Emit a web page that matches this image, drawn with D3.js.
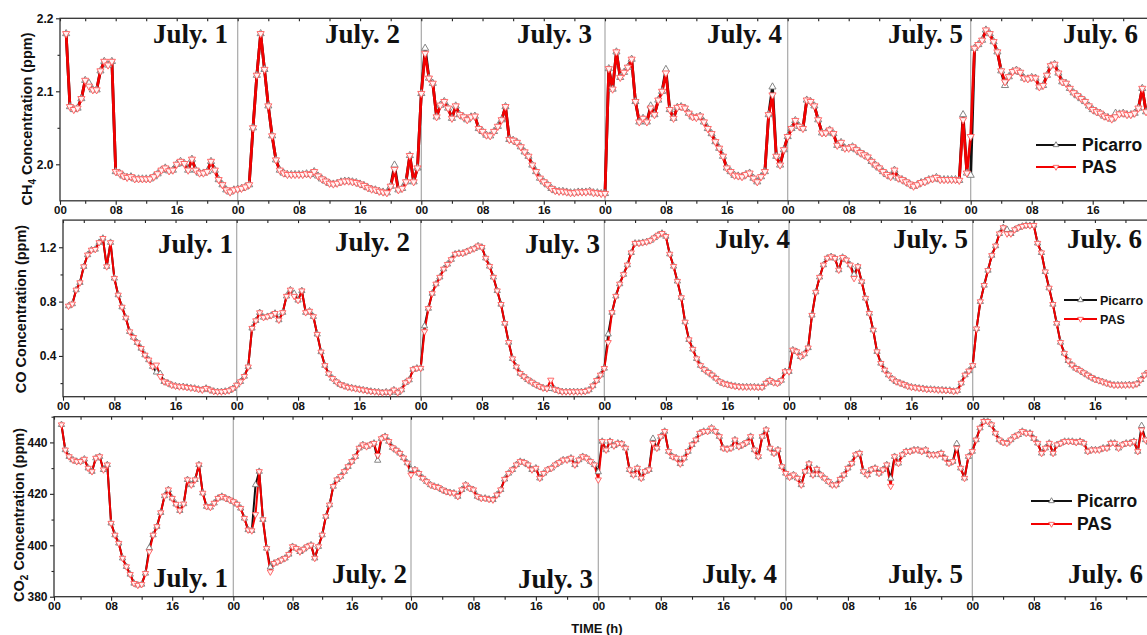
<!DOCTYPE html>
<html>
<head>
<meta charset="UTF-8">
<title>CH4 / CO / CO2 - Picarro vs PAS</title>
<script src="https://d3js.org/d3.v7.min.js"></script>
<style>
body { margin: 0; background: #fff; }
svg { display: block; }
.tick text { font-family: Arial, "Liberation Sans", sans-serif; font-weight: bold; fill: #111; }
</style>
</head>
<body>
<div id="chart"></div>
<script>
// one reading every half hour, hours counted from July 1 00:00
var stepHour = 0.5;

var days = ["July. 1", "July. 2", "July. 3", "July. 4", "July. 5", "July. 6"];
var dayHours = [24, 48, 72, 96, 120];
var majorHours = [0, 8, 16, 24, 32, 40, 48, 56, 64, 72, 80, 88, 96, 104, 112, 120, 128, 136];
var minorHours = [4, 12, 20, 28, 36, 44, 52, 60, 68, 76, 84, 92, 100, 108, 116, 124, 132, 140];

// ---- CH4 (ppm), first reading 01:30 July 1
var ch4Start = 1.5;
var ch4Pas = [
  2.179, 2.079, 2.075, 2.077, 2.090, 2.115, 2.107, 2.102, 2.102, 2.128, 2.141, 2.136, 2.141, 1.990, 1.988, 1.984,
  1.982, 1.983, 1.980, 1.980, 1.980, 1.980, 1.980, 1.983, 1.987, 1.992, 1.995, 1.991, 1.992, 2.000, 2.004, 2.001,
  1.992, 2.007, 1.992, 1.988, 1.988, 1.990, 2.004, 1.992, 1.979, 1.972, 1.965, 1.962, 1.965,
  1.966, 1.967, 1.969, 1.972, 2.050, 2.122, 2.179, 2.130, 2.080, 2.039, 2.006, 1.992, 1.988, 1.986, 1.986, 1.986,
  1.986, 1.986, 1.987, 1.986, 1.990, 1.984, 1.980, 1.977, 1.974, 1.973, 1.974, 1.976, 1.977, 1.977, 1.976, 1.975,
  1.973, 1.971, 1.968, 1.966, 1.965, 1.963, 1.962, 1.961, 1.970, 1.993, 1.965, 1.967, 1.976, 2.012, 1.976, 1.995,
  2.097, 2.152, 2.118, 2.111, 2.065, 2.081, 2.086, 2.077, 2.063, 2.080, 2.068, 2.065, 2.061, 2.065, 2.066, 2.049,
  2.045, 2.040, 2.039, 2.045, 2.052, 2.061, 2.079, 2.034, 2.033, 2.030, 2.024, 2.017, 2.011, 1.999, 1.990, 1.981,
  1.976, 1.972, 1.967, 1.964, 1.963, 1.963, 1.962, 1.961, 1.961, 1.962, 1.962, 1.962, 1.963, 1.961, 1.961, 1.960,
  1.960, 2.131, 2.103, 2.154, 2.119, 2.126, 2.133, 2.144, 2.086, 2.058, 2.063, 2.058, 2.077, 2.068, 2.088, 2.100,
  2.125, 2.075, 2.063, 2.078, 2.079, 2.077, 2.070, 2.065, 2.064, 2.066, 2.058, 2.049, 2.042, 2.031, 2.022, 2.011,
  1.995, 1.990, 1.985, 1.984, 1.983, 1.986, 1.988, 1.981, 1.976, 1.983, 1.990, 2.068, 2.095, 2.011, 1.999, 2.020,
  2.038, 2.049, 2.060, 2.052, 2.049, 2.088, 2.086, 2.080, 2.061, 2.043, 2.043, 2.047, 2.042, 2.026, 2.030, 2.022,
  2.022, 2.024, 2.020, 2.016, 2.013, 2.010, 2.004, 1.999, 1.995, 1.990, 1.986, 1.983, 1.992, 1.981, 1.979, 1.976,
  1.973, 1.970, 1.972, 1.975, 1.976, 1.979, 1.980, 1.982, 1.979, 1.979, 1.979, 1.979, 1.979, 1.978, 2.061, 1.988,
  2.038, 2.159, 2.164, 2.170, 2.184, 2.179, 2.168, 2.154, 2.128, 2.113, 2.120, 2.127, 2.129, 2.126, 2.118, 2.117,
  2.119, 2.118, 2.106, 2.108, 2.122, 2.135, 2.137, 2.125, 2.113, 2.111, 2.104, 2.098, 2.094, 2.090, 2.086, 2.080,
  2.075, 2.072, 2.070, 2.066, 2.064, 2.062, 2.065, 2.069, 2.070, 2.068, 2.068, 2.070, 2.077, 2.104, 2.072
];
var ch4Picarro = [
  2.179, 2.079, 2.075, 2.077, 2.090, 2.115, 2.111, 2.102, 2.102, 2.128, 2.141, 2.136, 2.141, 1.990, 1.988, 1.984,
  1.982, 1.983, 1.980, 1.980, 1.980, 1.980, 1.980, 1.983, 1.987, 1.992, 1.995, 1.991, 1.992, 2.000, 2.004, 2.001,
  1.992, 2.007, 1.992, 1.988, 1.988, 1.990, 2.004, 1.992, 1.979, 1.972, 1.965, 1.962, 1.965,
  1.966, 1.967, 1.969, 1.972, 2.050, 2.122, 2.179, 2.130, 2.080, 2.039, 2.006, 1.992, 1.988, 1.986, 1.986, 1.986,
  1.986, 1.986, 1.987, 1.986, 1.990, 1.984, 1.980, 1.977, 1.974, 1.973, 1.974, 1.976, 1.977, 1.977, 1.976, 1.975,
  1.973, 1.971, 1.968, 1.966, 1.965, 1.963, 1.962, 1.961, 1.970, 1.999, 1.965, 1.967, 1.976, 2.012, 1.976, 1.995,
  2.097, 2.159, 2.118, 2.111, 2.065, 2.081, 2.086, 2.077, 2.063, 2.080, 2.068, 2.065, 2.061, 2.065, 2.066, 2.049,
  2.045, 2.040, 2.039, 2.045, 2.052, 2.061, 2.079, 2.034, 2.033, 2.030, 2.024, 2.017, 2.011, 1.999, 1.990, 1.981,
  1.976, 1.972, 1.967, 1.964, 1.963, 1.963, 1.962, 1.961, 1.961, 1.962, 1.962, 1.962, 1.963, 1.961, 1.961, 1.960,
  1.960, 2.131, 2.103, 2.154, 2.119, 2.126, 2.133, 2.144, 2.086, 2.058, 2.063, 2.058, 2.080, 2.068, 2.088, 2.100,
  2.130, 2.075, 2.063, 2.078, 2.079, 2.077, 2.070, 2.065, 2.064, 2.066, 2.058, 2.049, 2.042, 2.031, 2.022, 2.011,
  1.995, 1.990, 1.985, 1.984, 1.983, 1.986, 1.988, 1.981, 1.976, 1.983, 1.990, 2.068, 2.106, 2.011, 1.999, 2.020,
  2.038, 2.049, 2.060, 2.052, 2.049, 2.088, 2.086, 2.080, 2.061, 2.043, 2.043, 2.047, 2.042, 2.026, 2.030, 2.022,
  2.022, 2.024, 2.020, 2.016, 2.013, 2.010, 2.004, 1.999, 1.995, 1.990, 1.986, 1.983, 1.992, 1.981, 1.979, 1.976,
  1.973, 1.970, 1.972, 1.975, 1.976, 1.979, 1.980, 1.982, 1.979, 1.979, 1.979, 1.979, 1.979, 1.978, 2.068, 1.988,
  1.985, 2.159, 2.164, 2.170, 2.184, 2.179, 2.168, 2.154, 2.128, 2.108, 2.120, 2.127, 2.129, 2.126, 2.118, 2.117,
  2.119, 2.118, 2.106, 2.108, 2.122, 2.135, 2.137, 2.125, 2.113, 2.111, 2.104, 2.098, 2.094, 2.090, 2.086, 2.080,
  2.075, 2.072, 2.070, 2.066, 2.064, 2.062, 2.070, 2.069, 2.070, 2.068, 2.068, 2.070, 2.077, 2.104, 2.072
];

// ---- CO (ppm), first reading 02:00 July 1
var coStart = 2.0;
var coPas = [
  0.768, 0.783, 0.886, 0.940, 1.058, 1.144, 1.180, 1.185, 1.235, 1.266, 1.058, 1.235, 0.972, 0.849, 0.760, 0.680,
  0.579, 0.537, 0.498, 0.456, 0.407, 0.371, 0.322, 0.334, 0.250, 0.211, 0.200, 0.186, 0.179, 0.174, 0.174, 0.169,
  0.165, 0.162, 0.155, 0.150, 0.162, 0.150, 0.140, 0.137, 0.137, 0.140, 0.145, 0.160,
  0.186, 0.211, 0.250, 0.320, 0.604, 0.660, 0.719, 0.684, 0.690, 0.698, 0.714, 0.665, 0.720, 0.840, 0.886, 0.840,
  0.810, 0.880, 0.720, 0.730, 0.690, 0.560, 0.430, 0.330, 0.270, 0.235, 0.210, 0.190, 0.180, 0.170, 0.165, 0.160,
  0.155, 0.150, 0.145, 0.140, 0.137, 0.135, 0.130, 0.135, 0.130, 0.150, 0.130, 0.150, 0.204, 0.223, 0.300, 0.310,
  0.310, 0.580, 0.750, 0.860, 0.930, 0.980, 1.040, 1.075, 1.110, 1.150, 1.156, 1.156, 1.168, 1.180, 1.190, 1.210,
  1.200, 1.120, 1.060, 0.980, 0.880, 0.780, 0.640, 0.500, 0.380, 0.320, 0.272, 0.248, 0.225, 0.208, 0.190, 0.176,
  0.165, 0.160, 0.223, 0.155, 0.145, 0.137, 0.137, 0.137, 0.137, 0.137, 0.137, 0.140, 0.150, 0.180, 0.220, 0.260,
  0.309, 0.500, 0.720, 0.840, 0.930, 1.000, 1.070, 1.160, 1.230, 1.230, 1.235, 1.240, 1.250, 1.270, 1.290, 1.303,
  1.280, 1.150, 1.060, 0.950, 0.830, 0.650, 0.520, 0.450, 0.380, 0.330, 0.300, 0.280, 0.260, 0.236, 0.211, 0.197,
  0.190, 0.183, 0.178, 0.174, 0.172, 0.172, 0.172, 0.172, 0.170, 0.170, 0.200, 0.220, 0.204, 0.199, 0.220, 0.285,
  0.285, 0.444, 0.432, 0.395, 0.415, 0.460, 0.700, 0.870, 0.980, 1.070, 1.120, 1.131, 1.119, 1.033, 1.126, 1.107,
  1.070, 0.972, 1.058, 0.947, 0.825, 0.714, 0.591, 0.432, 0.346, 0.297, 0.260, 0.232, 0.211, 0.201, 0.190, 0.178,
  0.171, 0.167, 0.163, 0.160, 0.155, 0.155, 0.153, 0.150, 0.150, 0.147, 0.147, 0.140, 0.145, 0.200, 0.260, 0.290,
  0.330, 0.600, 0.800, 0.920, 1.030, 1.140, 1.210, 1.300, 1.345, 1.300, 1.300, 1.330, 1.345, 1.355, 1.362, 1.360,
  1.362, 1.230, 1.160, 1.020, 0.900, 0.780, 0.640, 0.500, 0.420, 0.365, 0.334, 0.309, 0.295, 0.277, 0.260, 0.243,
  0.228, 0.219, 0.210, 0.200, 0.192, 0.186, 0.186, 0.186, 0.186, 0.188, 0.186, 0.195, 0.225, 0.260, 0.280
];
var coPicarro = [
  0.768, 0.783, 0.886, 0.940, 1.058, 1.144, 1.180, 1.185, 1.235, 1.266, 1.058, 1.235, 0.972, 0.849, 0.760, 0.680,
  0.579, 0.537, 0.498, 0.456, 0.407, 0.371, 0.322, 0.280, 0.270, 0.211, 0.200, 0.186, 0.179, 0.174, 0.174, 0.169,
  0.165, 0.162, 0.155, 0.150, 0.162, 0.150, 0.140, 0.137, 0.137, 0.140, 0.145, 0.160,
  0.186, 0.211, 0.250, 0.320, 0.604, 0.660, 0.719, 0.684, 0.690, 0.698, 0.714, 0.665, 0.720, 0.840, 0.886, 0.860,
  0.810, 0.880, 0.720, 0.730, 0.690, 0.560, 0.430, 0.330, 0.270, 0.235, 0.210, 0.190, 0.180, 0.170, 0.165, 0.160,
  0.155, 0.150, 0.145, 0.140, 0.137, 0.135, 0.130, 0.135, 0.130, 0.150, 0.130, 0.150, 0.204, 0.223, 0.300, 0.310,
  0.310, 0.620, 0.750, 0.860, 0.930, 0.980, 1.040, 1.075, 1.110, 1.150, 1.156, 1.156, 1.168, 1.180, 1.190, 1.210,
  1.200, 1.120, 1.060, 0.980, 0.880, 0.780, 0.640, 0.500, 0.380, 0.320, 0.272, 0.248, 0.225, 0.208, 0.190, 0.176,
  0.165, 0.160, 0.160, 0.155, 0.145, 0.137, 0.137, 0.137, 0.137, 0.137, 0.137, 0.140, 0.150, 0.180, 0.220, 0.260,
  0.309, 0.560, 0.720, 0.840, 0.930, 1.000, 1.070, 1.160, 1.230, 1.230, 1.235, 1.240, 1.250, 1.270, 1.290, 1.303,
  1.280, 1.150, 1.060, 0.950, 0.830, 0.650, 0.520, 0.450, 0.380, 0.330, 0.300, 0.280, 0.260, 0.236, 0.211, 0.197,
  0.190, 0.183, 0.178, 0.174, 0.172, 0.172, 0.172, 0.172, 0.170, 0.170, 0.200, 0.220, 0.204, 0.199, 0.220, 0.285,
  0.285, 0.444, 0.432, 0.395, 0.415, 0.460, 0.700, 0.870, 0.980, 1.070, 1.120, 1.131, 1.119, 1.033, 1.126, 1.107,
  1.070, 1.000, 1.058, 0.947, 0.825, 0.714, 0.591, 0.432, 0.346, 0.297, 0.260, 0.232, 0.211, 0.201, 0.190, 0.178,
  0.171, 0.167, 0.163, 0.160, 0.155, 0.155, 0.153, 0.150, 0.150, 0.147, 0.147, 0.140, 0.145, 0.200, 0.260, 0.290,
  0.330, 0.600, 0.800, 0.920, 1.030, 1.140, 1.210, 1.300, 1.345, 1.330, 1.300, 1.330, 1.345, 1.355, 1.362, 1.360,
  1.362, 1.230, 1.160, 1.020, 0.900, 0.780, 0.640, 0.500, 0.420, 0.365, 0.334, 0.309, 0.295, 0.277, 0.260, 0.243,
  0.228, 0.219, 0.210, 0.200, 0.192, 0.186, 0.186, 0.186, 0.186, 0.188, 0.186, 0.195, 0.225, 0.260, 0.280
];

// ---- CO2 (ppm), first reading 01:30 July 1
var co2Start = 1.5;
var co2Pas = [
  446.9, 437.1, 434.5, 433.2, 432.6, 432.6, 433.5, 430.0, 428.7, 433.9, 434.5, 429.4, 431.3, 408.6, 404.0, 400.8,
  395.0, 391.7, 388.7, 385.2, 384.5, 384.8, 389.1, 397.5, 404.0, 407.3, 412.7, 419.2, 421.6, 418.3, 416.0, 413.5,
  416.1, 425.5, 423.5, 425.5, 431.3, 420.3, 415.1, 414.8, 416.4, 418.3, 419.0, 418.3, 417.7,
  417.0, 416.0, 414.4, 410.5, 406.0, 405.7, 412.0, 428.7, 410.0, 398.8, 389.7, 393.0, 393.6, 394.3, 395.0, 396.5,
  399.5, 398.8, 397.5, 398.5, 399.5, 400.1, 395.0, 399.5, 404.0, 411.2, 415.7, 422.9, 425.5, 426.8, 428.7, 430.6,
  432.6, 434.5, 437.8, 439.1, 438.4, 439.1, 439.7, 435.0, 441.5, 442.3, 440.4, 438.0, 437.0, 435.8, 434.0, 432.0,
  427.4, 429.4, 428.0, 426.1, 424.8, 423.5, 422.9, 422.5, 421.6, 420.9, 420.5, 420.3, 419.0, 421.6, 423.5, 422.2,
  421.6, 419.0, 418.3, 418.3, 417.9, 417.7, 419.6, 421.6, 425.7, 428.0, 429.4, 431.3, 432.6, 432.2, 431.3, 429.4,
  430.0, 426.1, 428.0, 429.4, 430.0, 431.3, 432.2, 433.2, 433.2, 433.9, 431.3, 433.2, 434.5, 433.9, 432.6, 431.3,
  425.5, 440.4, 437.1, 440.4, 438.7, 439.7, 439.5, 437.8, 429.4, 427.4, 430.0, 426.1, 428.7, 429.4, 439.7, 437.8,
  442.3, 444.3, 436.5, 434.5, 433.9, 431.7, 433.9, 436.5, 439.1, 441.0, 443.6, 444.3, 444.3, 445.6, 444.3, 442.3,
  437.8, 437.4, 437.8, 441.0, 438.4, 439.1, 440.0, 442.3, 437.1, 434.5, 442.3, 444.9, 437.8, 435.8, 437.1, 430.6,
  428.0, 426.5, 427.4, 426.1, 423.5, 428.7, 431.7, 427.4, 429.6, 427.4, 426.1, 424.8, 423.5, 423.5, 425.7, 427.4,
  430.0, 431.9, 435.2, 435.8, 428.7, 427.4, 429.4, 430.0, 428.0, 429.4, 431.3, 423.0, 434.5, 431.9, 435.2, 436.5,
  436.5, 437.1, 437.1, 436.5, 437.1, 435.2, 435.2, 435.2, 435.8, 433.9, 431.9, 432.6, 437.8, 430.0, 426.1, 434.5,
  436.5, 441.0, 445.6, 448.2, 448.2, 446.9, 443.6, 441.0, 440.0, 439.7, 441.0, 442.3, 443.0, 444.3, 443.6, 443.6,
  441.5, 439.7, 435.8, 437.8, 439.7, 435.8, 439.1, 439.7, 440.4, 440.4, 440.4, 440.0, 440.4, 439.7, 436.5, 437.1,
  437.1, 437.1, 437.8, 437.8, 439.7, 439.7, 437.8, 439.1, 439.7, 439.7, 440.4, 436.5, 444.9, 441.0, 440.0
];
var co2Picarro = [
  446.9, 437.1, 434.5, 433.2, 432.6, 432.6, 433.5, 430.0, 428.7, 433.9, 434.5, 429.4, 431.3, 408.6, 404.0, 400.8,
  395.0, 391.7, 388.7, 385.2, 384.5, 384.8, 389.1, 399.0, 404.0, 407.3, 412.7, 419.2, 421.6, 418.3, 416.0, 413.5,
  416.1, 425.5, 423.5, 425.5, 431.3, 420.3, 415.1, 414.8, 416.4, 418.3, 419.0, 418.3, 417.7,
  417.0, 416.0, 414.4, 410.5, 406.0, 405.7, 423.5, 428.7, 410.0, 398.8, 391.5, 393.0, 393.6, 394.3, 395.0, 396.5,
  399.5, 398.8, 397.5, 398.5, 399.5, 400.1, 395.0, 399.5, 404.0, 411.2, 415.7, 422.9, 425.5, 426.8, 428.7, 430.6,
  432.6, 434.5, 437.8, 439.1, 438.4, 439.1, 439.7, 433.0, 441.5, 442.3, 440.4, 438.0, 437.0, 435.8, 434.0, 432.0,
  429.5, 429.4, 428.0, 426.1, 424.8, 423.5, 422.9, 422.5, 421.6, 420.9, 420.5, 420.3, 419.0, 421.6, 423.5, 422.2,
  421.6, 419.0, 418.3, 418.3, 417.9, 417.7, 419.6, 421.6, 425.7, 428.0, 429.4, 431.3, 432.6, 432.2, 431.3, 429.4,
  430.0, 426.1, 428.0, 429.4, 430.0, 431.3, 432.2, 433.2, 433.2, 433.9, 431.3, 433.2, 434.5, 433.9, 432.6, 431.3,
  428.5, 440.4, 437.1, 440.4, 438.7, 439.7, 439.5, 437.8, 429.4, 427.4, 430.0, 426.1, 428.7, 429.4, 441.5, 437.8,
  442.3, 444.3, 436.5, 434.5, 433.9, 431.7, 433.9, 436.5, 439.1, 441.0, 443.6, 444.3, 444.3, 445.6, 444.3, 442.3,
  437.8, 437.4, 437.8, 441.0, 438.4, 439.1, 440.0, 442.3, 437.1, 434.5, 442.3, 444.9, 437.8, 435.8, 437.1, 430.6,
  428.0, 426.5, 427.4, 426.1, 423.5, 428.7, 431.7, 427.4, 429.6, 427.4, 426.1, 424.8, 423.5, 423.5, 425.7, 427.4,
  430.0, 431.9, 435.2, 435.8, 428.7, 427.4, 429.4, 430.0, 428.0, 429.4, 431.3, 426.0, 434.5, 431.9, 435.2, 436.5,
  436.5, 437.1, 437.1, 436.5, 437.1, 435.2, 435.2, 435.2, 435.8, 433.9, 431.9, 432.6, 439.5, 430.0, 426.1, 434.5,
  436.5, 441.0, 445.6, 448.2, 448.2, 446.9, 443.6, 441.0, 440.0, 439.7, 441.0, 442.3, 443.0, 444.3, 443.6, 443.6,
  441.5, 439.7, 435.8, 437.8, 439.7, 435.8, 439.1, 439.7, 440.4, 440.4, 440.4, 440.0, 440.4, 439.7, 436.5, 437.1,
  437.1, 437.1, 437.8, 437.8, 439.7, 439.7, 437.8, 439.1, 439.7, 439.7, 440.4, 436.5, 446.5, 441.0, 440.0
];

var ch4Ticks = [2.0, 2.1, 2.2], ch4Minor = [2.05, 2.15];
var coTicks = [0.4, 0.8, 1.2], coMinor = [0.2, 0.6, 1.0];
var co2Ticks = [380, 400, 420, 440], co2Minor = [390, 410, 430, 450];

// page layout of the three stacked panels
var W = 1147, H = 635, plotRight = 1165;
var panels = [
  { top: 18.3, bottom: 200.8, left: 60, dayX: [54.7, 237.7, 421.3, 605, 787.7, 970.7, 1153.7],
    yDomain: [1.95, 2.2], ticks: ch4Ticks, minor: ch4Minor, fmt: ".1f",
    title: ["CH", "4", " Concentration (ppm)"], titleX: 27, titleY: 119,
    start: ch4Start, pas: ch4Pas, pic: ch4Picarro, lw: 2.8, ms: 22,
    labelX: [153, 325, 517, 707, 888, 1063], labelY: [43, 43, 43, 43, 43, 43],
    legend: { x1: 1036, x2: 1076, y: [145, 167], tx: 1082, fs: 17.5 } },
  { top: 220.1, bottom: 396.7, left: 63, dayX: [53.2, 236.7, 420.7, 604.3, 789, 972.7, 1156],
    yDomain: [0.1, 1.4], ticks: coTicks, minor: coMinor, fmt: ".1f",
    title: ["CO Concentration (ppm)"], titleX: 21, titleY: 309,
    start: coStart, pas: coPas, pic: coPicarro, lw: 2, ms: 17,
    labelX: [158, 335, 525, 715, 893, 1067], labelY: [253, 251, 253, 248, 248, 248],
    legend: { x1: 1064, x2: 1097, y: [300, 319], tx: 1100, fs: 12.5 } },
  { top: 416.7, bottom: 596.7, left: 54, dayX: [50, 233.3, 411, 598.3, 785.7, 972.3, 1157],
    yDomain: [380, 450], ticks: co2Ticks, minor: co2Minor, fmt: "d",
    title: ["CO", "2", " Concentration (ppm)"], titleX: 18.5, titleY: 515,
    start: co2Start, pas: co2Pas, pic: co2Picarro, lw: 2, ms: 17,
    labelX: [153, 332, 518, 702, 888, 1068], labelY: [587, 583, 588, 583, 583, 583],
    legend: { x1: 1031, x2: 1072, y: [501, 524], tx: 1077, fs: 17.5 } }
];

var red = "#f20000", black = "#111";
var sans = "Arial, 'Liberation Sans', sans-serif";
var serif = "'Times New Roman', 'Liberation Serif', serif";

var svg = d3.select("#chart").append("svg").attr("width", W).attr("height", H);
svg.append("rect").attr("width", W).attr("height", H).attr("fill", "#fff");

var tri = d3.symbol().type(d3.symbolTriangle);

panels.forEach(function(p, pi) {
  var hLeft = (p.left - p.dayX[0]) / ((p.dayX[1] - p.dayX[0]) / 24);
  var x = d3.scaleLinear()
    .domain([hLeft, 24, 48, 72, 96, 120, 144])
    .range([p.left].concat(p.dayX.slice(1)))
    .clamp(true);
  var y = d3.scaleLinear().domain(p.yDomain).range([p.bottom, p.top]);

  var g = svg.append("g");

  svg.append("clipPath").attr("id", "clip" + pi).append("rect")
    .attr("x", p.left).attr("y", p.top)
    .attr("width", plotRight - p.left).attr("height", p.bottom - p.top);

  // day separators
  g.selectAll(".dayline").data(dayHours).enter().append("line")
    .attr("x1", function(d) { return x(d); }).attr("x2", function(d) { return x(d); })
    .attr("y1", p.top).attr("y2", p.bottom)
    .attr("stroke", "#a8a8a8").attr("stroke-width", 1.2);

  // day names
  g.selectAll(".dayname").data(days).enter().append("text")
    .attr("x", function(d, i) { return p.labelX[i]; })
    .attr("y", function(d, i) { return p.labelY[i]; })
    .attr("font-family", serif).attr("font-weight", "bold").attr("font-size", 27)
    .attr("fill", "#111")
    .text(function(d) { return d; });

  // axes
  var bottomAxis = g.append("g").attr("transform", "translate(0," + p.bottom + ")")
    .call(d3.axisBottom(x).tickValues(majorHours).tickSize(4).tickPadding(1)
      .tickFormat(function(h) { return d3.format("02d")(h % 24); }));
  bottomAxis.selectAll(".tick text").attr("font-size", 11.5);
  g.append("g").attr("transform", "translate(0," + p.bottom + ")")
    .call(d3.axisBottom(x).tickValues(minorHours).tickSize(3).tickFormat(""));
  g.append("g").attr("transform", "translate(0," + p.top + ")")
    .call(d3.axisBottom(x).tickValues(majorHours.concat(minorHours)).tickSize(3).tickFormat(""));

  var leftAxis = g.append("g").attr("transform", "translate(" + p.left + ",0)")
    .call(d3.axisLeft(y).tickValues(p.ticks).tickSize(4).tickPadding(2.5)
      .tickFormat(d3.format(p.fmt)));
  leftAxis.selectAll(".tick text").attr("font-size", 12);
  g.append("g").attr("transform", "translate(" + p.left + ",0)")
    .call(d3.axisLeft(y).tickValues(p.minor).tickSize(2.5).tickFormat(""));

  g.selectAll(".domain").remove();
  g.selectAll(".tick line").attr("stroke", "#222").attr("stroke-width", 1.1);

  g.append("rect")
    .attr("x", p.left).attr("y", p.top)
    .attr("width", plotRight - p.left).attr("height", p.bottom - p.top)
    .attr("fill", "none").attr("stroke", "#333").attr("stroke-width", 1.3);

  // y title
  var t = g.append("text")
    .attr("transform", "translate(" + p.titleX + "," + p.titleY + ") rotate(-90)")
    .attr("text-anchor", "middle").attr("dy", "0.35em")
    .attr("font-family", sans).attr("font-weight", "bold").attr("font-size", 14.5)
    .attr("fill", "#111");
  if (p.title.length === 1) {
    t.text(p.title[0]);
  } else {
    t.append("tspan").text(p.title[0]);
    t.append("tspan").attr("dy", 4).attr("font-size", 10).text(p.title[1]);
    t.append("tspan").attr("dy", -4).text(p.title[2]);
  }

  // series
  var plot = g.append("g").attr("clip-path", "url(#clip" + pi + ")");
  var hourOf = function(i) { return p.start + i * stepHour; };
  var line = d3.line()
    .x(function(d, i) { return x(hourOf(i)); })
    .y(function(d) { return y(d); });

  plot.append("path").datum(p.pic).attr("d", line)
    .attr("fill", "none").attr("stroke", black).attr("stroke-width", p.lw)
    .attr("stroke-linejoin", "round");
  plot.append("path").datum(p.pas).attr("d", line)
    .attr("fill", "none").attr("stroke", red).attr("stroke-width", p.lw)
    .attr("stroke-linejoin", "round");

  plot.selectAll(".pic").data(p.pic).enter().append("path")
    .attr("d", tri.size(p.ms)())
    .attr("transform", function(d, i) { return "translate(" + x(hourOf(i)) + "," + y(d) + ")"; })
    .attr("fill", "#fff").attr("stroke", "#777").attr("stroke-width", 0.9);
  plot.selectAll(".pas").data(p.pas).enter().append("path")
    .attr("d", tri.size(p.ms)())
    .attr("transform", function(d, i) { return "translate(" + x(hourOf(i)) + "," + y(d) + ") rotate(180)"; })
    .attr("fill", "#fff4f4").attr("stroke", "#ff5a5a").attr("stroke-width", 0.9);

  // legend
  var L = p.legend;
  var entries = [
    { name: "Picarro", color: black, mk: "#777", fill: "#fff", rot: 0 },
    { name: "PAS", color: red, mk: "#ff5a5a", fill: "#fff4f4", rot: 180 }
  ];
  entries.forEach(function(e, k) {
    var ly = L.y[k];
    g.append("line").attr("x1", L.x1).attr("x2", L.x2).attr("y1", ly).attr("y2", ly)
      .attr("stroke", e.color).attr("stroke-width", 2);
    g.append("path").attr("d", tri.size(14)())
      .attr("transform", "translate(" + ((L.x1 + L.x2) / 2) + "," + ly + ") rotate(" + e.rot + ")")
      .attr("fill", e.fill).attr("stroke", e.mk).attr("stroke-width", 0.9);
    g.append("text").attr("x", L.tx).attr("y", ly).attr("dy", "0.36em")
      .attr("font-family", sans).attr("font-weight", "bold").attr("font-size", L.fs)
      .attr("fill", "#111").text(e.name);
  });
});

svg.append("text")
  .attr("x", 597).attr("y", 633)
  .attr("text-anchor", "middle")
  .attr("font-family", sans).attr("font-weight", "bold").attr("font-size", 13)
  .attr("fill", "#111")
  .text("TIME (h)");
</script>
</body>
</html>
